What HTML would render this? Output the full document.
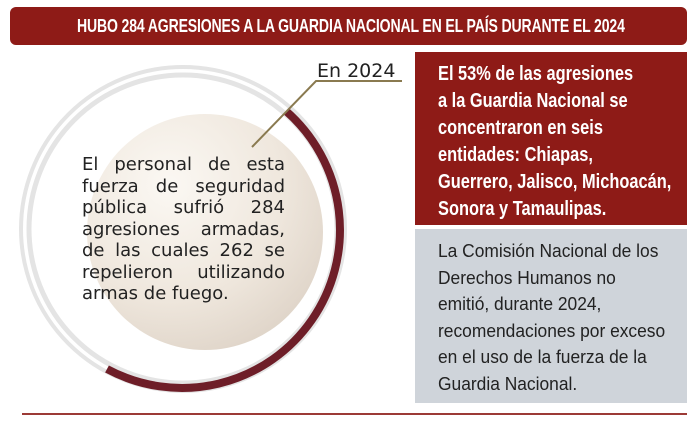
<!DOCTYPE html>
<html><head><meta charset="utf-8"><style>
body{margin:0;width:700px;height:425px;background:#fff;position:relative;overflow:hidden;font-family:"Liberation Sans",sans-serif}
.hdr{position:absolute;left:10px;top:7px;width:677px;height:38px;background:#8e1b17;border-radius:6px}
.hdrt{position:absolute;left:77px;top:7px;color:#fff;font-weight:bold;font-size:18.5px;line-height:38px;white-space:nowrap;transform:scaleX(0.76);transform-origin:0 0;letter-spacing:-0.2px}
.red{position:absolute;left:415px;top:52px;width:272px;height:173px;background:#8e1b17}
.grey{position:absolute;left:415px;top:229px;width:272px;height:174px;background:#cfd4da}
.t{position:absolute;left:438px;font-size:20px;line-height:27px;white-space:nowrap;transform-origin:0 0}
.circ{position:absolute;left:82px;top:154px;width:203px;font-family:"DejaVu Sans","Liberation Sans",sans-serif;font-size:18px;line-height:21.5px;color:#222}
.circ div{text-align:justify;text-align-last:justify;white-space:nowrap}
.circ div.l{text-align-last:left}
.line{position:absolute;left:22px;top:413px;width:665px;height:2px;background:#9c3a36}
</style></head><body>
<div class="hdr"></div>
<div class="hdrt">HUBO 284 AGRESIONES A LA GUARDIA NACIONAL EN EL PAÍS DURANTE EL 2024</div>
<svg width="420" height="410" style="position:absolute;left:0;top:0">
<defs><radialGradient id="g" cx="0.35" cy="0.3" r="0.8"><stop offset="0" stop-color="#fbf8f3"/><stop offset="0.6" stop-color="#efe7dd"/><stop offset="1" stop-color="#ddd2c6"/></radialGradient></defs>
<circle cx="183" cy="229" r="162" fill="none" stroke="#e4e4e4" stroke-width="4"/>
<circle cx="183" cy="229" r="154" fill="none" stroke="#e4e4e4" stroke-width="5"/>
<circle cx="205" cy="232" r="118" fill="url(#g)"/>
<path d="M286 111 A158 158 0 0 1 107 369" fill="none" stroke="#6e1e28" stroke-width="8"/>
<polyline points="402,81 316,81 252,147" fill="none" stroke="#8a7a50" stroke-width="2"/>
<text x="317" y="77" font-family="DejaVu Sans,sans-serif" font-size="19" fill="#222">En 2024</text>
</svg>
<div class="circ">
<div>El personal de esta</div>
<div>fuerza de seguridad</div>
<div>pública sufrió 284</div>
<div>agresiones armadas,</div>
<div>de las cuales 262 se</div>
<div>repelieron utilizando</div>
<div class="l">armas de fuego.</div>
</div>
<div class="red"></div><div class="grey"></div>
<div class="t" style="top:61px;color:#fff;font-weight:bold;transform:scaleX(0.82)">El 53% de las agresiones<br>a la Guardia Nacional se<br>concentraron en seis<br>entidades: Chiapas,<br>Guerrero, Jalisco, Michoacán,<br>Sonora y Tamaulipas.</div>
<div class="t" style="top:238px;color:#222;font-size:18.5px;line-height:26.5px;transform:scaleX(0.94)">La Comisión Nacional de los<br>Derechos Humanos no<br>emitió, durante 2024,<br>recomendaciones por exceso<br>en el uso de la fuerza de la<br>Guardia Nacional.</div>
<div class="line"></div>
</body></html>
